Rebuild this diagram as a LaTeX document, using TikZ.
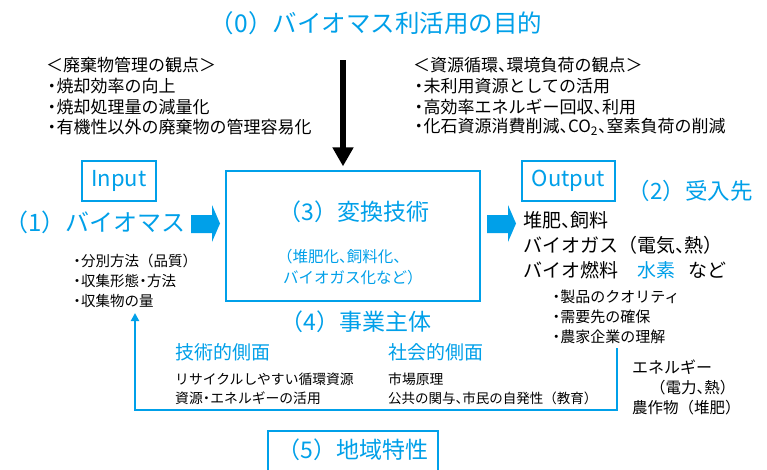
\documentclass[tikz,border=0pt]{standalone}
\usepackage{fontspec}
\setmainfont{Noto Sans CJK JP}
\usetikzlibrary{arrows.meta}
\definecolor{bl}{RGB}{0,160,233}
\newcommand\tn{\makebox[.5em][l]{、}}
\newcommand\bul{\makebox[.55em][c]{・}}
\newcommand\fs[1]{\fontsize{#1}{#1}\selectfont}
\tikzset{
  txt/.style={inner sep=0pt, anchor=west, text=black},
  btxt/.style={inner sep=0pt, text=bl},
  lbox/.style={draw=bl, line width=1.2pt, inner sep=0pt, text=bl},
  blk/.style={fill=bl, draw=none},
  loop/.style={draw=bl, line width=2.2pt, -{Triangle[width=8pt,length=8pt]}}
}
\begin{document}
\begin{tikzpicture}[x=1pt,y=-1pt]
\clip (0,0) rectangle (767,469);
\fill[white] (0,0) rectangle (767,469);
% title
\node[btxt, font=\fs{24.5}] (title) at (376,23) {（0）バイオマス利活用の目的};
% top-left block
\node[txt, font=\fs{17}] (tl0) at (46,65) {＜廃棄物管理の観点＞};
\node[txt, font=\fs{17}] (tl1) at (47,86) {\bul 焼却効率の向上};
\node[txt, font=\fs{17}] (tl2) at (47,107) {\bul 焼却処理量の減量化};
\node[txt, font=\fs{17}] (tl3) at (47,127) {\bul 有機性以外の廃棄物の管理容易化};
% top-right block
\node[txt, font=\fs{17}] (tr0) at (413,65) {＜資源循環\tn 環境負荷の観点＞};
\node[txt, font=\fs{17}] (tr1) at (414,86) {\bul 未利用資源としての活用};
\node[txt, font=\fs{17}] (tr2) at (414,107) {\bul 高効率エネルギー回収\tn 利用};
\node[txt, font=\fs{17}] (tr3) at (414,127) {\bul 化石資源消費削減\tn CO\textsubscript{2}\tn 窒素負荷の削減};
% conversion box
\node[lbox, line width=1.3pt, minimum width=254pt, minimum height=130pt] (conv) at (353,236) {};
\node[btxt, font=\fs{23}] (convt) at (354,212) {（3）変換技術};
\node[btxt, anchor=west, font=\fs{15.5}] (convs1) at (277,257) {（堆肥化\tn 飼料化\tn};
\node[btxt, anchor=west, font=\fs{15.5}] (convs2) at (283,278) {バイオガス化など）};
% black arrow
\coordinate (atop) at (343,60);
\draw[line width=6pt, -{Triangle[width=20pt,length=19pt]}] (atop) -- ([yshift=4pt]conv.north -| atop);
% input
\node[lbox, minimum width=74pt, minimum height=40pt, font=\fs{22}] (in) at (119,181) {Input};
\node[btxt, font=\fs{24}] (bio) at (95,222) {（1）バイオマス};
\node[txt, font=\fs{14.5}] (lb1) at (73,261) {\bul 分別方法（品質）};
\node[txt, font=\fs{14.5}] (lb2) at (73,281) {\bul 収集形態\bul 方法};
\node[txt, font=\fs{14.5}] (lb3) at (73,301) {\bul 収集物の量};
% block arrows
\fill[blk] (191,215) -- (212,215) -- (212,205) -- (220,223.5) -- (212,242) -- (212,233) -- (191,233) -- cycle;
\fill[blk] (487,215) -- (508,215) -- (508,205) -- (516,223.5) -- (508,242) -- (508,233) -- (487,233) -- cycle;
% output
\node[lbox, minimum width=93pt, minimum height=40pt, font=\fs{22}] (out) at (568.5,181) {Output};
\node[btxt, font=\fs{22.5}] (recv) at (690,191) {（2）受入先};
\node[txt, font=\fs{19}] (o1) at (523,220) {堆肥\tn 飼料};
\node[txt, font=\fs{19}] (o2) at (523,245) {バイオガス（電気\tn 熱）};
\node[txt, font=\fs{19}] (o3) at (523,270) {バイオ燃料\hspace{1em}\textcolor{bl}{水素}\hspace{.7em}など};
\node[txt, font=\fs{15}] (ob1) at (552,297) {\bul 製品のクオリティ};
\node[txt, font=\fs{15}] (ob2) at (552,317) {\bul 需要先の確保};
\node[txt, font=\fs{15}] (ob3) at (552,337) {\bul 農家企業の理解};
% business
\node[btxt, font=\fs{23}] (biz) at (356,322) {（4）事業主体};
\node[btxt, anchor=west, font=\fs{19}] (tech) at (175,352) {技術的側面};
\node[btxt, anchor=west, font=\fs{19}] (soc) at (388,352) {社会的側面};
\node[txt, font=\fs{13.8}] (t1) at (175,379) {リサイクルしやすい循環資源};
\node[txt, font=\fs{13.8}] (t2) at (175,398) {資源\bul エネルギーの活用};
\node[txt, font=\fs{13.8}] (s1) at (388,379) {市場原理};
\node[txt, font=\fs{13.5}] (s2) at (388,398) {公共の関与\tn 市民の自発性（教育）};
% right bottom
\node[txt, font=\fs{16}] (e1) at (632,367) {エネルギー};
\node[txt, font=\fs{15.5}] (e2) at (650,388) {（電力\tn 熱）};
\node[txt, font=\fs{15.5}] (e3) at (632,408) {農作物（堆肥）};
% loop connector
\coordinate (ls) at (617,348);
\coordinate (lbr) at (617,410);
\coordinate (lbl) at (135,410);
\coordinate (le) at (135,313);
\draw[loop] (ls) -- (lbr) -- (lbl) -- (le);
% regional
\draw[draw=bl, line width=1.3pt] (268,431) rectangle (438,490);
\node[btxt, font=\fs{23}] (reg) at (353,450) {（5）地域特性};
\end{tikzpicture}
\end{document}
